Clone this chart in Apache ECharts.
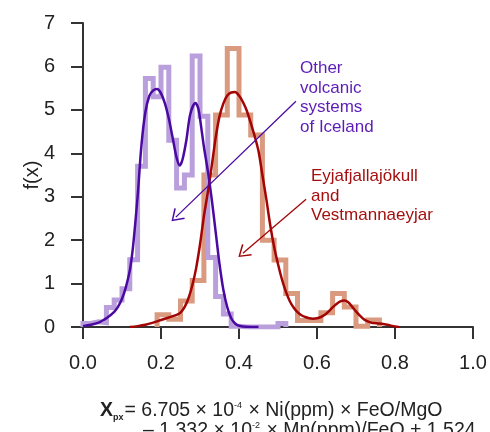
<!DOCTYPE html>
<html>
<head>
<meta charset="utf-8">
<script src="https://cdn.jsdelivr.net/npm/echarts@6/dist/echarts.min.js"></script>
<style>
  html, body { margin: 0; padding: 0; background: #fff; }
  #chart { width: 490px; height: 432px; }
</style>
</head>
<body>
<div id="chart"></div>
<script>
// Other volcanic systems of Iceland: histogram (bin width 0.02 from 0.00)
const otherBinStart = 0.00;
const otherBinWidth = 0.02;
const otherHist = [0.08, 0.12, 0.10, 0.45, 0.62, 0.88, 1.55, 3.70, 5.72, 5.30,
                   5.98, 4.30, 3.20, 3.50, 6.24, 4.85, 1.60, 0.70, 0.30, 0.02,
                   0, 0, 0, 0, 0, 0.08];

// Eyjafjallajökull and Vestmannaeyjar: histogram (bin width 0.03 from 0.19)
const eyjaBinStart = 0.19;
const eyjaBinWidth = 0.03;
const eyjaHist = [0.28, 0.18, 0.60, 1.07, 3.50, 4.88, 6.41, 4.88, 4.42, 2.00,
                  1.54, 0.77, 0.15, 0.15, 0.33, 0.77, 0.46, 0.02, 0.16];

// Kernel density estimates
const otherKdeX = [0.00, 0.02, 0.04, 0.05, 0.06, 0.08, 0.09, 0.10, 0.11, 0.12, 0.125, 0.13, 0.14, 0.15,
                   0.16, 0.17, 0.18, 0.19, 0.20, 0.21, 0.22, 0.23, 0.24, 0.248, 0.255, 0.265, 0.275,
                   0.288, 0.295, 0.30, 0.31, 0.32, 0.33, 0.34, 0.35, 0.36, 0.37, 0.38, 0.39, 0.40, 0.42, 0.45];
const otherKdeY = [0.02, 0.05, 0.10, 0.15, 0.20, 0.35, 0.47, 0.65, 0.92, 1.30, 1.60, 2.00, 3.00, 4.20,
                   4.95, 5.32, 5.45, 5.48, 5.38, 5.15, 4.80, 4.35, 3.90, 3.72, 3.85, 4.30, 4.90,
                   5.16, 5.05, 4.80, 4.15, 3.60, 2.95, 2.20, 1.45, 0.85, 0.45, 0.20, 0.08, 0.03, 0.005, 0];

const eyjaKdeX = [0.12, 0.14, 0.16, 0.18, 0.20, 0.22, 0.24, 0.25, 0.26, 0.27, 0.28, 0.29, 0.30, 0.31,
                  0.32, 0.33, 0.34, 0.35, 0.36, 0.37, 0.38, 0.39, 0.40, 0.41, 0.42, 0.43, 0.44, 0.45,
                  0.46, 0.47, 0.48, 0.49, 0.50, 0.51, 0.52, 0.53, 0.54, 0.55, 0.56, 0.57, 0.58, 0.59,
                  0.60, 0.61, 0.62, 0.63, 0.64, 0.65, 0.66, 0.67, 0.68, 0.69, 0.70, 0.71, 0.72, 0.73,
                  0.74, 0.76, 0.78, 0.80, 0.81];
const eyjaKdeY = [0.00, 0.02, 0.05, 0.10, 0.16, 0.22, 0.28, 0.33, 0.45, 0.65, 0.95, 1.35, 1.90, 2.55,
                  3.10, 3.70, 4.35, 4.85, 5.15, 5.33, 5.40, 5.41, 5.33, 5.18, 4.98, 4.70, 4.40, 4.05,
                  3.50, 2.95, 2.35, 1.85, 1.45, 1.10, 0.82, 0.60, 0.45, 0.34, 0.27, 0.23, 0.20, 0.19,
                  0.20, 0.23, 0.28, 0.36, 0.45, 0.53, 0.59, 0.61, 0.57, 0.47, 0.36, 0.26, 0.18, 0.13,
                  0.10, 0.08, 0.05, 0.01, 0];

// Axis ticks
const xTickStep = 0.2;
const yTickStep = 1;

// Pointer arrows (data coordinates: from, to)
const otherArrow = [[0.546, 5.20], [0.238, 2.53]];
const eyjaArrow = [[0.572, 2.94], [0.410, 1.70]];

// Colours
const C_OTHER_HIST = '#b99fdb';
const C_EYJA_HIST = '#d99a80';
const C_OTHER_LINE = '#4a0aa2';
const C_EYJA_LINE = '#a30505';
const C_OTHER_TEXT = '#5d1cb8';
const C_EYJA_TEXT = '#a3100f';
const FONT = '"Liberation Sans", Arial, Helvetica, sans-serif';

// Histogram outline: vertical rise at first edge, flat tops, drop at last edge
function histOutline(start, width, values) {
  const pts = [[start, 0]];
  values.forEach((v, i) => pts.push([+(start + i * width).toFixed(4), v]));
  const end = +(start + values.length * width).toFixed(4);
  pts.push([end, values[values.length - 1]]);
  pts.push([end, 0]);
  return pts;
}
const zip = (xs, ys) => xs.map((x, i) => [x, ys[i]]);

// Open arrow head, tip at the top of the path
const chevron = 'path://M5,0 L10,8.8 L9.1,9.5 L5,2.0 L0.9,9.5 L0,8.8 Z';

const chart = echarts.init(document.getElementById('chart'), null, { renderer: 'canvas' });

chart.setOption({
  animation: false,
  backgroundColor: '#fff',
  grid: { left: 83, right: 17, top: 23, bottom: 105, containLabel: false },
  xAxis: {
    type: 'value', min: 0, max: 1, interval: xTickStep,
    axisLine: { lineStyle: { color: '#333', width: 2 } },
    axisTick: { length: 12, lineStyle: { color: '#333', width: 2 } },
    axisLabel: { margin: 26, fontSize: 20, color: '#222', fontFamily: FONT,
                 formatter: v => v.toFixed(1) },
    splitLine: { show: false }
  },
  yAxis: {
    type: 'value', min: 0, max: 7, interval: yTickStep,
    name: 'f(x)', nameLocation: 'middle', nameGap: 41, nameMoveOverlap: false,
    nameTextStyle: { fontSize: 20, color: '#222', fontFamily: FONT },
    axisLine: { show: true, lineStyle: { color: '#333', width: 2 } },
    axisTick: { show: true, length: 12, lineStyle: { color: '#333', width: 2 } },
    axisLabel: { margin: 28, fontSize: 20, color: '#222', fontFamily: FONT },
    splitLine: { show: false }
  },
  series: [
    {
      type: 'line', name: 'eyjaHist', step: 'end', showSymbol: false, silent: true,
      data: histOutline(eyjaBinStart, eyjaBinWidth, eyjaHist),
      lineStyle: { color: C_EYJA_HIST, width: 5, join: 'miter' }, z: 2
    },
    {
      type: 'line', name: 'otherHist', step: 'end', showSymbol: false, silent: true,
      data: histOutline(otherBinStart, otherBinWidth, otherHist),
      lineStyle: { color: C_OTHER_HIST, width: 5, join: 'miter' }, z: 3
    },
    {
      type: 'line', name: 'eyjaKde', smooth: 0.3, showSymbol: false, silent: true,
      data: zip(eyjaKdeX, eyjaKdeY),
      lineStyle: { color: C_EYJA_LINE, width: 2.5 }, z: 4,
      markLine: {
        silent: true, animation: false,
        symbol: ['none', chevron], symbolSize: [15, 12],
        label: { show: false },
        lineStyle: { color: C_EYJA_LINE, width: 1.3, type: 'solid' },
        data: [[{ coord: eyjaArrow[0] }, { coord: eyjaArrow[1] }]]
      }
    },
    {
      type: 'line', name: 'otherKde', smooth: 0.3, showSymbol: false, silent: true,
      data: zip(otherKdeX, otherKdeY),
      lineStyle: { color: C_OTHER_LINE, width: 2.5 }, z: 5,
      markLine: {
        silent: true, animation: false,
        symbol: ['none', chevron], symbolSize: [15, 12],
        label: { show: false },
        lineStyle: { color: C_OTHER_LINE, width: 1.3, type: 'solid' },
        data: [[{ coord: otherArrow[0] }, { coord: otherArrow[1] }]]
      }
    }
  ],
  graphic: [
    {
      type: 'text', left: 300, top: 59, z: 10,
      style: { text: 'Other\nvolcanic\nsystems\nof Iceland', fill: C_OTHER_TEXT,
               font: '17px ' + FONT, lineHeight: 19.5 }
    },
    {
      type: 'text', left: 311, top: 167, z: 10,
      style: { text: 'Eyjafjallajökull\nand\nVestmannaeyjar', fill: C_EYJA_TEXT,
               font: '17px ' + FONT, lineHeight: 19.5 }
    },
    {
      type: 'text', left: 100, top: 400, z: 10,
      style: {
        text: '{b|X}{sub|px}{n|= 6.705 × 10}{sup|-4}{n| × Ni(ppm) × FeO/MgO}',
        rich: {
          b: { fontSize: 19.5, fontWeight: 'bold', fontFamily: FONT, fill: '#222', lineHeight: 22, verticalAlign: 'middle' },
          n: { fontSize: 19.5, fontFamily: FONT, fill: '#222', lineHeight: 22, verticalAlign: 'middle' },
          sub: { fontSize: 9, fontWeight: 'bold', fontFamily: FONT, fill: '#222', lineHeight: 22, verticalAlign: 'bottom', padding: [0, 1, 0, 0] },
          sup: { fontSize: 9, fontFamily: FONT, fill: '#222', lineHeight: 22, verticalAlign: 'top', padding: [1, 1, 0, 0] }
        }
      }
    },
    {
      type: 'text', left: 143, top: 420, z: 10,
      style: {
        text: '{n|– 1.332 × 10}{sup|-2}{n| × Mn(ppm)/FeO + 1.524}',
        rich: {
          n: { fontSize: 19.5, fontFamily: FONT, fill: '#222', lineHeight: 22, verticalAlign: 'middle' },
          sup: { fontSize: 9, fontFamily: FONT, fill: '#222', lineHeight: 22, verticalAlign: 'top', padding: [1, 1, 0, 0] }
        }
      }
    }
  ]
});
</script>
</body>
</html>
